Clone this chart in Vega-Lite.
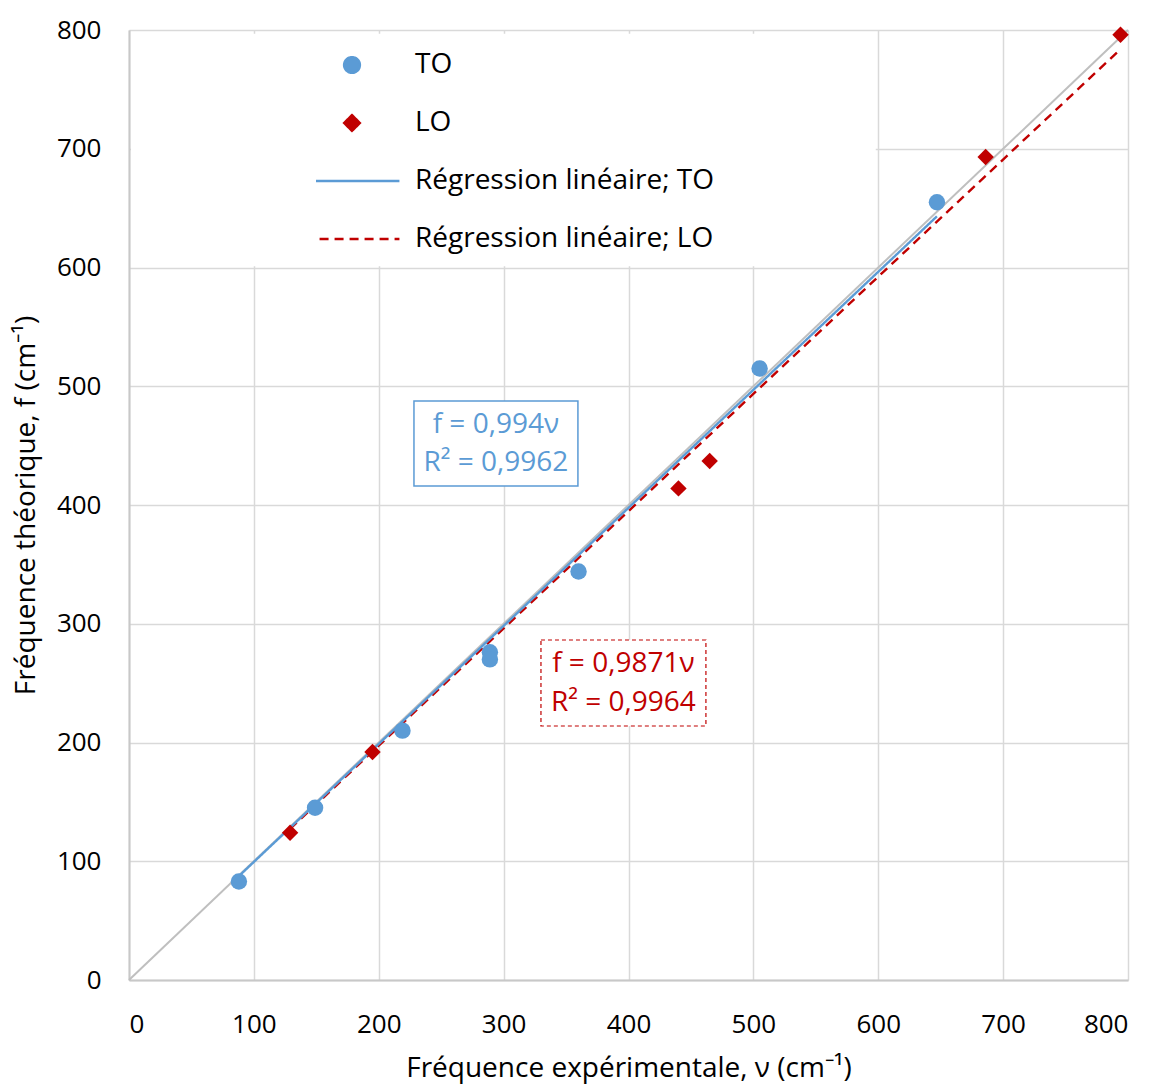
{
  "$schema": "https://vega.github.io/schema/vega-lite/v6.json",
  "width": 999,
  "height": 950,
  "autosize": {"type": "none"},
  "padding": {"left": 129, "top": 30, "right": 25, "bottom": 104},
  "background": "white",
  "config": {
    "view": {"stroke": null},
    "font": "Open Sans",
    "axis": {
      "labelFont": "Open Sans", "labelFontSize": 26, "labelColor": "#000000",
      "titleFont": "Open Sans", "titleFontSize": 28, "titleColor": "#000000", "titleFontWeight": "normal",
      "ticks": false, "tickSize": 0,
      "gridColor": "#D9D9D9", "gridWidth": 1.5,
      "domainColor": "#C8C8C8", "domainWidth": 2
    },
    "legend": {
      "orient": "none", "legendX": 187, "legendY": 15,
      "labelFont": "Open Sans", "labelFontSize": 28, "labelColor": "#000000", "labelOffset": 49, "symbolOffset": 22, "labelLimit": 600,
      "clipHeight": 40, "rowPadding": 18, "padding": 0, "symbolStrokeWidth": 2.4, "symbolOpacity": 1, "symbolSize": 250
    }
  },
  "datasets": {
    "pts": [
      {"v": 88, "f": 83, "serie": "TO"},
      {"v": 149, "f": 145, "serie": "TO"},
      {"v": 219, "f": 210, "serie": "TO"},
      {"v": 289, "f": 276, "serie": "TO"},
      {"v": 289, "f": 270, "serie": "TO"},
      {"v": 360, "f": 344, "serie": "TO"},
      {"v": 505, "f": 515, "serie": "TO"},
      {"v": 647, "f": 655, "serie": "TO"},
      {"v": 129, "f": 124, "serie": "LO"},
      {"v": 195, "f": 192, "serie": "LO"},
      {"v": 440, "f": 414, "serie": "LO"},
      {"v": 465, "f": 437, "serie": "LO"},
      {"v": 686, "f": 693, "serie": "LO"},
      {"v": 794, "f": 796, "serie": "LO"}
    ],
    "lines": [
      {"v": 129, "f": 127.3, "serie": "Régression linéaire; LO"},
      {"v": 792, "f": 781.8, "serie": "Régression linéaire; LO"},
      {"v": 88, "f": 87.5, "serie": "Régression linéaire; TO"},
      {"v": 647, "f": 643.1, "serie": "Régression linéaire; TO"}
    ],
    "identite": [
      {"v": 0, "f": 0},
      {"v": 800, "f": 800}
    ],
    "one": [{}]
  },
  "layer": [
    {
      "data": {"name": "identite"},
      "mark": {"type": "line", "color": "#BFBFBF", "strokeWidth": 2},
      "encoding": {
        "x": {"field": "v", "type": "quantitative",
          "scale": {"domain": [0, 800], "nice": false},
          "axis": {"values": [0,100,200,300,400,500,600,700,800], "title": "Fréquence expérimentale, ν (cm⁻¹)", "labelPadding": 31, "titlePadding": 17}},
        "y": {"field": "f", "type": "quantitative",
          "scale": {"domain": [0, 800], "nice": false},
          "axis": {"values": [0,100,200,300,400,500,600,700,800], "title": "Fréquence théorique, f (cm⁻¹)", "labelPadding": 28, "titlePadding": 16}}
      }
    },
    {
      "data": {"name": "one"},
      "mark": {"type": "rect", "fill": "white", "strokeWidth": 0},
      "encoding": {
        "x": {"datum": 1.6, "type": "quantitative"},
        "x2": {"datum": 598},
        "y": {"datum": 601, "type": "quantitative"},
        "y2": {"datum": 796.8}
      }
    },
    {
      "data": {"name": "lines"},
      "mark": {"type": "line", "strokeWidth": 2.4},
      "encoding": {
        "x": {"field": "v", "type": "quantitative"},
        "y": {"field": "f", "type": "quantitative"},
        "color": {"field": "serie", "type": "nominal",
          "scale": {"domain": ["TO", "LO", "Régression linéaire; TO", "Régression linéaire; LO"], "range": ["#5B9BD5", "#C00000", "#5B9BD5", "#C00000"]},
          "legend": {"title": null}},
        "strokeDash": {"field": "serie", "type": "nominal",
          "scale": {"domain": ["TO", "LO", "Régression linéaire; TO", "Régression linéaire; LO"], "range": [[1, 0], [1, 0], [1, 0], [9, 6]]},
          "legend": {"title": null}}
      }
    },
    {
      "data": {"name": "pts"},
      "mark": {"type": "point", "filled": true, "opacity": 1, "size": 270},
      "encoding": {
        "x": {"field": "v", "type": "quantitative"},
        "y": {"field": "f", "type": "quantitative"},
        "color": {"field": "serie", "type": "nominal"},
        "shape": {"field": "serie", "type": "nominal",
          "scale": {"domain": ["TO", "LO", "Régression linéaire; TO", "Régression linéaire; LO"], "range": ["circle", "diamond", "M-6,0L6,0", "M-6,0L6,0"]},
          "legend": {"title": null}}
      }
    },
    {
      "data": {"name": "one"},
      "mark": {"type": "rect", "fill": "white", "stroke": "#5B9BD5", "strokeWidth": 1.5},
      "encoding": {
        "x": {"datum": 228.2, "type": "quantitative"},
        "x2": {"datum": 359.5},
        "y": {"datum": 416, "type": "quantitative"},
        "y2": {"datum": 487.6}
      }
    },
    {
      "data": {"name": "one"},
      "mark": {"type": "text", "text": "f = 0,994ν", "font": "Open Sans", "fontSize": 28, "color": "#5B9BD5", "align": "center", "baseline": "middle"},
      "encoding": {
        "x": {"datum": 293.8, "type": "quantitative"},
        "y": {"datum": 467.4, "type": "quantitative"}
      }
    },
    {
      "data": {"name": "one"},
      "mark": {"type": "text", "text": "R² = 0,9962", "font": "Open Sans", "fontSize": 28, "color": "#5B9BD5", "align": "center", "baseline": "middle"},
      "encoding": {
        "x": {"datum": 293.8, "type": "quantitative"},
        "y": {"datum": 435.4, "type": "quantitative"}
      }
    },
    {
      "data": {"name": "one"},
      "mark": {"type": "rect", "fill": "white", "stroke": "#C00000", "strokeWidth": 1.2, "strokeDash": [4, 3]},
      "encoding": {
        "x": {"datum": 329.9, "type": "quantitative"},
        "x2": {"datum": 462},
        "y": {"datum": 213.9, "type": "quantitative"},
        "y2": {"datum": 286.3}
      }
    },
    {
      "data": {"name": "one"},
      "mark": {"type": "text", "text": "f = 0,9871ν", "font": "Open Sans", "fontSize": 28, "color": "#C00000", "align": "center", "baseline": "middle"},
      "encoding": {
        "x": {"datum": 395.9, "type": "quantitative"},
        "y": {"datum": 266.1, "type": "quantitative"}
      }
    },
    {
      "data": {"name": "one"},
      "mark": {"type": "text", "text": "R² = 0,9964", "font": "Open Sans", "fontSize": 28, "color": "#C00000", "align": "center", "baseline": "middle"},
      "encoding": {
        "x": {"datum": 395.9, "type": "quantitative"},
        "y": {"datum": 233.3, "type": "quantitative"}
      }
    }
  ]
}
